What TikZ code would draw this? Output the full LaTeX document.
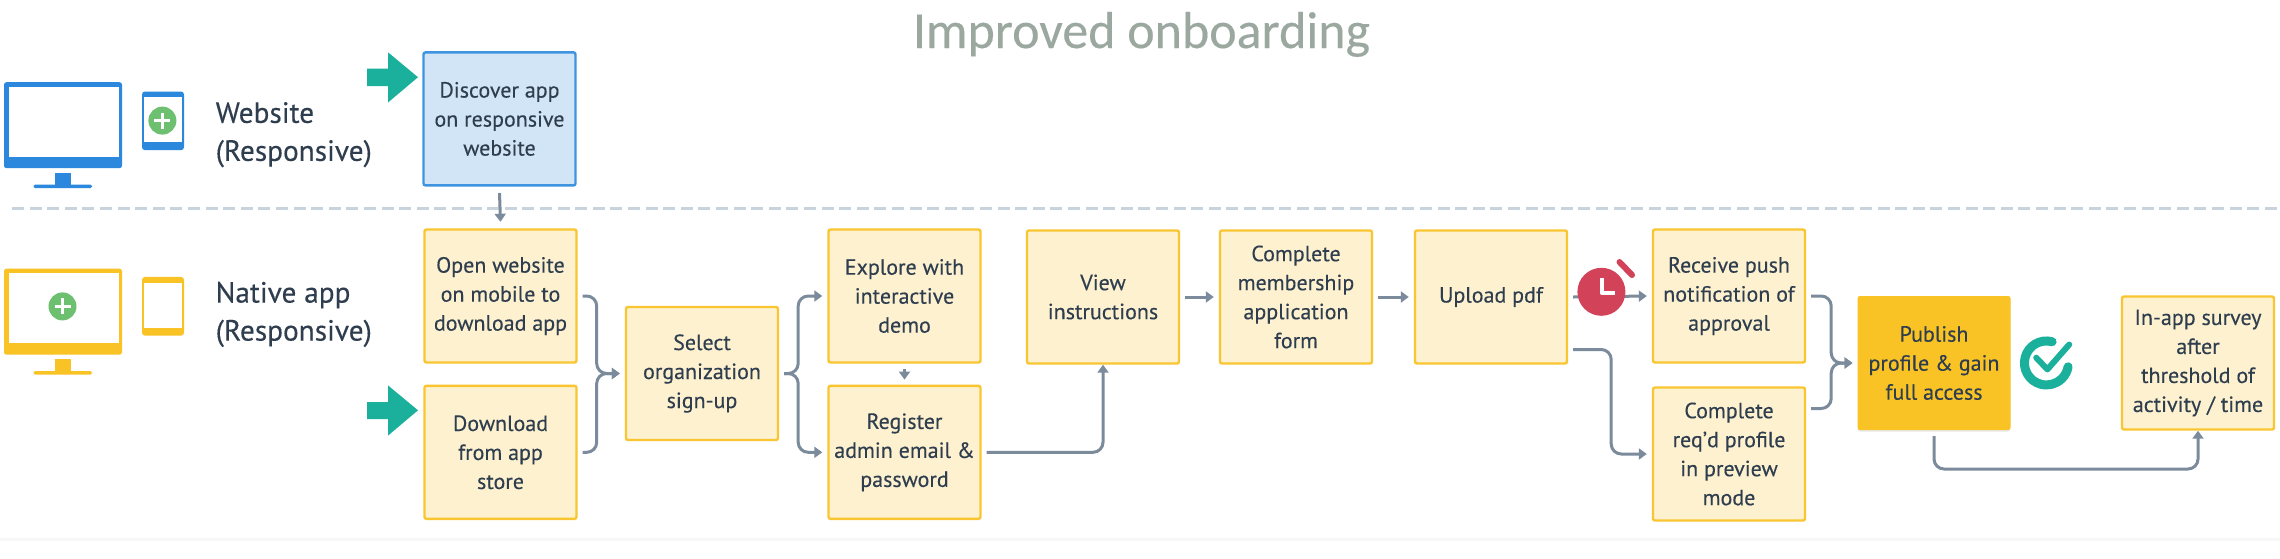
\documentclass[tikz,border=0pt]{standalone}
\usepackage{fontspec}
\setmainfont[FakeBold=0.25]{PT Sans}
\newfontfamily\titlefont[FakeBold=0.25]{Carlito}
\usetikzlibrary{arrows.meta,shadows}
\definecolor{ink}{HTML}{2F3E4E}
\definecolor{conn}{HTML}{7B8B9C}
\definecolor{ybd}{HTML}{F9C631}
\definecolor{yfl}{HTML}{FDF1D0}
\definecolor{bbd}{HTML}{3F94E0}
\definecolor{bfl}{HTML}{D2E5F6}
\definecolor{mblue}{HTML}{2C88DC}
\definecolor{myel}{HTML}{F9C326}
\definecolor{tealc}{HTML}{1BB09C}
\definecolor{gplus}{HTML}{6CC070}
\definecolor{redc}{HTML}{D2435A}
\definecolor{dashc}{HTML}{C8D3DE}
\definecolor{titlec}{HTML}{9BA8A0}
\tikzset{
  x=1pt,y=-1pt,
  card/.style={draw=ybd,fill=yfl,line width=2.4pt,rounded corners=2pt,minimum width=152pt,minimum height=133pt,
    inner sep=0pt,align=center,text=ink,font=\fontsize{22}{29}\selectfont},
  bluecard/.style={card,draw=bbd,fill=bfl},
  hotcard/.style={card,draw=myel,fill=myel,line width=1pt,drop shadow={opacity=.18,shadow xshift=0pt,shadow yshift=-2pt}},
  lane/.style={anchor=west,align=left,text=ink,inner sep=0pt,font=\fontsize{29.3}{38}\selectfont},
  flow/.style={draw=conn,line width=3pt,rounded corners=10pt,-{Triangle[length=8pt,width=11pt]}},
  tealarrow/.style={fill=tealc,draw=none},
}
\newcommand{\monitor}[2]{%
  \fill[#1,rounded corners=2.5pt] (4,#2) rectangle (122,#2+86);
  \fill[white] (8.7,#2+4.3) rectangle (119,#2+74.4);
  \fill[#1] (55,#2+90.4) rectangle (71,#2+103);
  \fill[#1,rounded corners=1.5pt] (33.5,#2+102.5) rectangle (92,#2+106);
}
\newcommand{\phone}[2]{%
  \fill[#1,rounded corners=3pt] (142,#2) rectangle (184,#2+58.7);
  \fill[white] (144.2,#2+5.7) rectangle (182,#2+50.8);
}
\newcommand{\plusbadge}[2]{%
  \fill[gplus] (#1,#2) circle[radius=14pt];
  \draw[white,line width=3.4pt] (#1-8,#2) -- (#1+8,#2) (#1,#2-8) -- (#1,#2+8);
}
\begin{document}
\begin{tikzpicture}
\useasboundingbox (0,0) rectangle (2280,558);
\fill[white] (0,0) rectangle (2280,558);
\fill[black!3] (0,538) rectangle (2280,541);
% title
\node[anchor=base,font=\titlefont\fontsize{52}{56}\selectfont,text=titlec,inner sep=0pt] (title) at (1141.5,48) {Improved onboarding};
% divider
\coordinate (divL) at (12,208.5);
\coordinate (divR) at (2280,208.5);
\draw[dashc,line width=3pt,dash pattern=on 12pt off 5.6pt] (divL) -- (divR);
% lane icons
\monitor{mblue}{82.2}
\phone{mblue}{91.5}
\plusbadge{162.4}{120.6}
\monitor{myel}{268.7}
\phone{myel}{276.9}
\plusbadge{62.5}{306.4}
\node[lane] (lweb) at (215.5,134.7) {Website\\(Responsive)};
\node[lane] (lnat) at (215.5,314.4) {Native app\\(Responsive)};
% teal arrows
\fill[tealarrow] (367,68.7) -- (388,68.7) -- (388,52.3) -- (418,77.2) -- (388,102.5) -- (388,86) -- (367,86) -- cycle;
\fill[tealarrow] (367,402) -- (388,402) -- (388,385.4) -- (418,410.3) -- (388,435.6) -- (388,419.2) -- (367,419.2) -- cycle;
% cards
\node[bluecard] (discover) at (499.5,118.9) {Discover app\\on responsive\\website};
\node[card] (open) at (500.5,296) {Open website\\on mobile to\\download app};
\node[card] (download) at (500.5,452.3) {Download\\from app\\store};
\node[card] (select) at (702,373.5) {Select\\organization\\sign-up};
\node[card] (explore) at (904.5,296) {Explore with\\interactive\\demo};
\node[card] (register) at (904.5,452.3) {Register\\admin email \&\\password};
\node[card] (view) at (1103,297) {View\\instructions};
\node[card] (member) at (1296,297) {Complete\\membership\\application\\form};
\node[card] (upload) at (1491,297) {Upload pdf};
\node[card] (receive) at (1729,296) {Receive push\\notification of\\approval};
\node[card] (profile) at (1729,454) {Complete\\req'd profile\\in preview\\mode};
\node[hotcard] (publish) at (1934,363) {Publish\\profile \& gain\\full access};
\node[card] (survey) at (2198,363) {In-app survey\\after\\threshold of\\activity / time};
% connectors
\draw[flow] ([yshift=-6.4pt]discover.south) -- ([yshift=6.5pt]open.north);
\draw[flow] ([xshift=5pt]open.east) -- ++(14,0) |- ([xshift=-5pt]select.west);
\draw[flow] ([xshift=5pt]download.east) -- ++(14,0) |- ([xshift=-5pt]select.west);
\draw[flow] ([xshift=5pt]select.east) -- ++(14,0) |- ([xshift=-5pt]explore.west);
\draw[flow] ([xshift=5pt]select.east) -- ++(14,0) |- ([xshift=-5pt]register.west);
\draw[flow] ([yshift=-5pt]explore.south) -- ([yshift=5pt]register.north);
\draw[flow] ([xshift=5pt]register.east) -| (view.south);
\draw[flow] ([xshift=5pt]view.east) -- ([xshift=-5pt]member.west);
\draw[flow] ([xshift=5pt]member.east) -- ([xshift=-5pt]upload.west);
\draw[flow] ([xshift=5pt]upload.east) -- ([xshift=-5pt]receive.west);
\draw[flow] ([xshift=5pt,yshift=-52.5pt]upload.east) -- ++(38,0) |- ([xshift=-5pt]profile.west);
\draw[flow] ([xshift=5pt]receive.east) -- ++(20,0) |- ([xshift=-5pt]publish.west);
\draw[flow] ([xshift=5pt,yshift=45.5pt]profile.east) -- ++(20,0) |- ([xshift=-5pt]publish.west);
\draw[flow] ([yshift=-6pt]publish.south) -- ++(0,33) -| (survey.south);
% clock
\fill[redc] (1601.4,291.8) circle[radius=24pt];
\draw[white,line width=4pt,line join=round] (1602,278.3) -- (1602,293.2) -- (1615,293.2);
\draw[redc,line width=6pt,line cap=round] (1619.5,262) -- (1632,275);
% check
\draw[tealc,line width=9pt,line cap=round] (2052.1,341.7) arc[start angle=75,end angle=350,radius=22pt];
\draw[tealc,line width=6pt,line cap=round,line join=round] (2036.2,357.7) -- (2047.4,369.4) -- (2069.2,344.5);
\end{tikzpicture}
\end{document}
